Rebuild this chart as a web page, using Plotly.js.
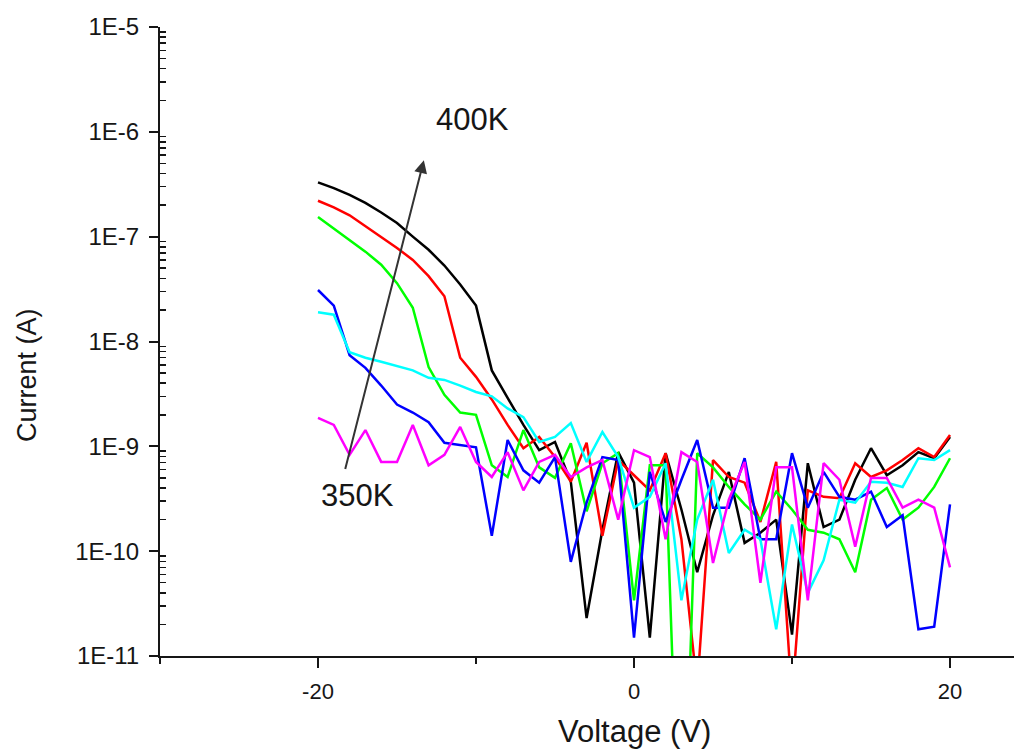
<!DOCTYPE html>
<html>
<head>
<meta charset="utf-8">
<script src="https://cdn.plot.ly/plotly-3.0.1.min.js"></script>
<style>html,body{margin:0;padding:0;background:#fff;}#chart{width:1014px;height:754px;}</style>
</head>
<body>
<div id="chart"></div>
<script>
const voltage = [-20,-19,-18,-17,-16,-15,-14,-13,-12,-11,-10,-9,-8,-7,-6,-5,-4,-3,-2,-1,0,1,2,3,4,5,6,7,8,9,10,11,12,13,14,15,16,17,18,19,20];

const current400K = [3.3e-7,2.9e-7,2.5e-7,2.1e-7,1.7e-7,1.35e-7,1.0e-7,7.5e-8,5.3e-8,3.5e-8,2.2e-8,
  5.3e-9,2.9e-9,1.6e-9,9.2e-10,1.1e-9,4.6e-10,2.3e-11,1.6e-10,8.8e-10,
  4.5e-10,1.5e-11,8.6e-10,2.5e-10,6.3e-11,2.2e-10,5.7e-10,1.2e-10,1.5e-10,2.0e-10,1.6e-11,
  6.9e-10,1.7e-10,2.0e-10,4.8e-10,9.6e-10,5.3e-10,6.6e-10,8.8e-10,7.7e-10,1.23e-9];

const current390K = [2.2e-7,1.9e-7,1.6e-7,1.26e-7,1.0e-7,7.8e-8,6.0e-8,4.2e-8,2.7e-8,7.0e-9,4.6e-9,
  2.8e-9,1.6e-9,9.6e-10,1.23e-9,7.9e-10,4.6e-10,1.08e-9,1.4e-10,7.4e-10,
  5.3e-10,3.8e-10,8.6e-10,1.3e-10,5e-12,7.4e-10,5.1e-10,4.5e-10,1.9e-10,7.1e-10,4e-12,
  3.8e-10,3.3e-10,3.2e-10,6.9e-10,5.1e-10,5.9e-10,7.4e-10,9.6e-10,7.9e-10,1.28e-9];

const current380K = [1.54e-7,1.2e-7,9.3e-8,7.2e-8,5.4e-8,3.6e-8,2.1e-8,5.7e-9,3.1e-9,2.1e-9,2.0e-9,
  6.6e-10,5.1e-10,1.43e-9,6.3e-10,5.0e-10,1.07e-9,2.4e-10,6.9e-10,8.6e-10,
  3.4e-11,6.6e-10,6.6e-10,3e-14,8.6e-10,6.3e-10,4.1e-10,2.8e-10,2.0e-10,3.7e-10,2.5e-10,
  1.6e-10,1.5e-10,1.3e-10,6.3e-11,3.1e-10,4.0e-10,2.0e-10,2.6e-10,4.1e-10,7.7e-10];

const current370K = [3.1e-8,2.2e-8,7.4e-9,5.6e-9,3.8e-9,2.5e-9,2.1e-9,1.7e-9,1.08e-9,1.03e-9,9.8e-10,
  1.4e-10,1.15e-9,5.9e-10,4.5e-10,7.9e-10,7.9e-11,2.9e-10,7.9e-10,7.4e-10,
  1.5e-11,5.7e-10,1.9e-10,4.8e-10,1.15e-9,2.6e-10,2.6e-10,7.7e-10,1.3e-10,1.3e-10,8.6e-10,
  2.6e-10,5.7e-10,3.3e-10,3.1e-10,3.7e-10,1.7e-10,2.2e-10,1.8e-11,1.9e-11,2.8e-10];

const current360K = [1.9e-8,1.8e-8,7.9e-9,7.0e-9,6.4e-9,5.8e-9,5.3e-9,4.5e-9,4.3e-9,3.8e-9,3.3e-9,
  3.0e-9,2.3e-9,1.9e-9,1.1e-9,1.23e-9,1.67e-9,7.1e-10,1.37e-9,7.9e-10,
  2.6e-10,3.3e-10,6.9e-10,3.4e-11,2.0e-10,4.8e-10,9.6e-11,1.6e-10,1.3e-10,1.8e-11,1.8e-10,
  4.0e-11,8.2e-11,3.1e-10,2.9e-10,4.6e-10,4.5e-10,4.1e-10,7.7e-10,7.4e-10,9.2e-10];

const current350K = [1.87e-9,1.6e-9,8.3e-10,1.43e-9,7.1e-10,7.1e-10,1.6e-9,6.6e-10,8.3e-10,1.53e-9,7.1e-10,
  5.1e-10,8.8e-10,3.8e-10,7.1e-10,8.3e-10,5.1e-10,6.3e-10,7.4e-10,2.0e-10,
  9.2e-10,7.9e-10,1.3e-10,8.8e-10,7.1e-10,7.7e-11,3.1e-10,7.1e-10,5.0e-11,6.3e-10,6.3e-10,
  3.4e-11,6.9e-10,4.8e-10,1.1e-10,5.0e-10,5.0e-10,2.6e-10,3.1e-10,2.6e-10,7.0e-11];

const seriesNames = ['400K','390K','380K','370K','360K','350K'];
const seriesColors = ['#000000','#ff0000','#00ff00','#0000ff','#00ffff','#ff00ff'];
const seriesValues = [current400K,current390K,current380K,current370K,current360K,current350K];

const yTickVals = [1e-11,1e-10,1e-9,1e-8,1e-7,1e-6,1e-5];
const yTickText = ['1E-11','1E-10','1E-9','1E-8','1E-7','1E-6','1E-5'];
const xTickVals = [-20,0,20];
const xTickText = ['-20','0','20'];
const xMinorVals = [-30,-10,10];

const xTitle = 'Voltage (V)';
const yTitle = 'Current (A)';
const labelHigh = '400K';
const labelLow = '350K';

const yMinorVals = [];
for (let e = -11; e < -5; e++) { for (let m = 2; m <= 9; m++) yMinorVals.push(m * Math.pow(10, e)); }

const FONT = 'Liberation Sans, Arial, sans-serif';
const INK = '#161616';

const traces = seriesValues.map((vals, i) => ({
  type: 'scatter', mode: 'lines', name: seriesNames[i],
  x: voltage, y: vals,
  line: {color: seriesColors[i], width: 2.5}
}));

const plotW = 1014 - 160, plotH = 754 - 27 - 98;

const layout = {
  width: 1014, height: 754,
  margin: {l: 160, r: 0, t: 27, b: 98},
  paper_bgcolor: '#ffffff', plot_bgcolor: '#ffffff',
  showlegend: false,
  font: {family: FONT, color: INK},
  xaxis: {
    range: [-30, 24.05],
    tickmode: 'array', tickvals: xTickVals, ticktext: xTickText,
    ticks: 'outside', ticklen: 10, tickwidth: 2, tickcolor: INK,
    minor: {tickmode: 'array', tickvals: xMinorVals, ticks: 'outside', ticklen: 6, tickwidth: 2, tickcolor: INK, showgrid: false},
    showline: true, linewidth: 2, linecolor: INK,
    showgrid: false, zeroline: false,
    tickfont: {family: FONT, size: 22, color: INK},
    ticklabelstandoff: 5,
    automargin: false
  },
  yaxis: {
    type: 'log', range: [-11, -5],
    tickmode: 'array', tickvals: yTickVals, ticktext: yTickText,
    ticks: 'outside', ticklen: 9, tickwidth: 2, tickcolor: INK,
    minor: {tickmode: 'array', tickvals: yMinorVals, ticks: 'inside', ticklen: 6, tickwidth: 1.5, tickcolor: INK, showgrid: false},
    showline: true, linewidth: 2, linecolor: INK,
    showgrid: false, zeroline: false,
    tickfont: {family: FONT, size: 24, color: INK},
    ticklabelstandoff: 5,
    automargin: false
  },
  annotations: [
    {x: 0, xref: 'x', y: (754 - 98 - 731) / plotH, yref: 'paper', yanchor: 'middle', xanchor: 'center',
     text: xTitle, showarrow: false,
     font: {family: FONT, size: 31, color: INK}},
    {x: (27 - 160) / plotW, xref: 'paper', xanchor: 'center', y: -5 - (375 - 27) / 104.83, yref: 'y', yanchor: 'middle',
     text: yTitle, textangle: -90, showarrow: false,
     font: {family: FONT, size: 27, color: INK}},
    {x: -13.3, y: -6.27, ax: -18.3, ay: -9.23, xref: 'x', yref: 'y', axref: 'x', ayref: 'y',
     showarrow: true, text: '', arrowhead: 2, arrowsize: 1.3, arrowwidth: 2, arrowcolor: '#333333'},
    {x: -10.25, y: -5.887, xref: 'x', yref: 'y', text: labelHigh, showarrow: false,
     font: {family: FONT, size: 31, color: INK}},
    {x: -17.5, y: -9.465, xref: 'x', yref: 'y', text: labelLow, showarrow: false,
     font: {family: FONT, size: 31, color: INK}}
  ]
};

Plotly.newPlot('chart', traces, layout, {displayModeBar: false, staticPlot: true});
</script>
</body>
</html>
